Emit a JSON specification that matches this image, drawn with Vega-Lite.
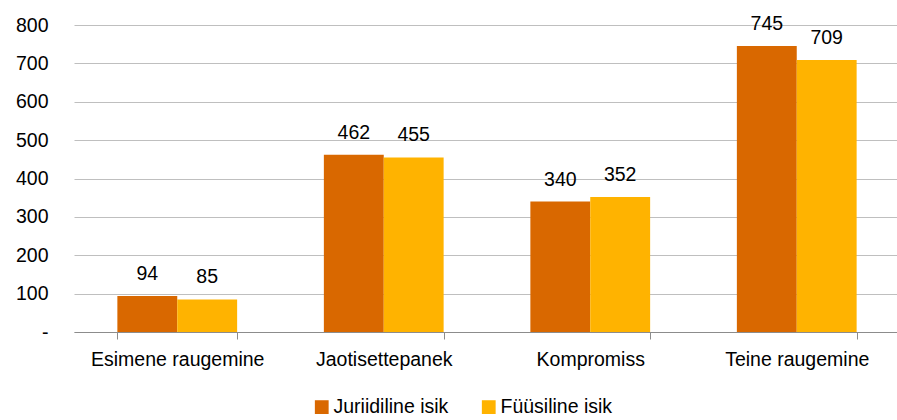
{
  "$schema": "https://vega.github.io/schema/vega-lite/v6.json",
  "autosize": {"type": "none"},
  "padding": {"left": 74, "top": 25, "right": 0, "bottom": 88},
  "width": 826,
  "height": 307,
  "background": "white",
  "config": {
    "font": "Liberation Sans",
    "view": {"stroke": null}
  },
  "data": {
    "values": [
      {"cat": "Esimene raugemine", "series": "Juriidiline isik", "value": 94},
      {"cat": "Esimene raugemine", "series": "Füüsiline isik", "value": 85},
      {"cat": "Jaotisettepanek", "series": "Juriidiline isik", "value": 462},
      {"cat": "Jaotisettepanek", "series": "Füüsiline isik", "value": 455},
      {"cat": "Kompromiss", "series": "Juriidiline isik", "value": 340},
      {"cat": "Kompromiss", "series": "Füüsiline isik", "value": 352},
      {"cat": "Teine raugemine", "series": "Juriidiline isik", "value": 745},
      {"cat": "Teine raugemine", "series": "Füüsiline isik", "value": 709}
    ]
  },
  "encoding": {
    "x": {
      "field": "cat", "type": "nominal", "sort": null, "title": null,
      "scale": {"paddingInner": 0.42, "paddingOuter": 0.21},
      "axis": {
        "labelAngle": 0, "labelFontSize": 19.5, "labelColor": "#000000",
        "domainColor": "#8C8C8C", "tickColor": "#8C8C8C", "tickSize": 7,
        "tickBand": "extent", "labelPadding": 11, "grid": false
      }
    },
    "xOffset": {"field": "series", "sort": ["Juriidiline isik", "Füüsiline isik"]},
    "y": {
      "field": "value", "type": "quantitative", "title": null,
      "scale": {"domain": [0, 800]},
      "axis": {
        "values": [0, 100, 200, 300, 400, 500, 600, 700, 800],
        "labelExpr": "datum.value == 0 ? '-' : datum.label",
        "labelFontSize": 19.5, "labelColor": "#000000", "labelPadding": 26,
        "domain": false, "ticks": false,
        "gridColor": "#BFBFBF", "gridWidth": 1
      }
    },
    "color": {
      "field": "series", "type": "nominal",
      "sort": ["Juriidiline isik", "Füüsiline isik"],
      "scale": {"domain": ["Juriidiline isik", "Füüsiline isik"], "range": ["#D96800", "#FFB300"]},
      "legend": {
        "title": null, "orient": "none", "direction": "horizontal",
        "legendX": 238, "legendY": 372,
        "symbolType": "square", "symbolSize": 190, "symbolStrokeWidth": 0,
        "labelFontSize": 19.5, "labelColor": "#000000", "labelOffset": 2,
        "columnPadding": 30
      }
    }
  },
  "layer": [
    {"mark": {"type": "bar"}},
    {
      "mark": {"type": "text", "fontSize": 19.5, "color": "#000000", "baseline": "alphabetic", "dy": -16},
      "encoding": {"text": {"field": "value", "type": "quantitative"}, "color": {"value": "#000000"}}
    }
  ]
}
